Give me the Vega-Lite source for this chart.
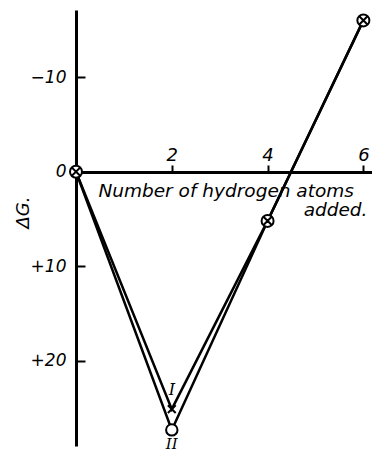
{
  "$schema": "https://vega.github.io/schema/vega-lite/v6.json",
  "width": 296,
  "height": 436,
  "autosize": {"type": "none"},
  "padding": {"left": 76, "top": 10, "right": 0, "bottom": 7},
  "background": "white",
  "config": {"view": {"stroke": null}, "font": "DejaVu Sans"},
  "datasets": {
    "lines": [
      {"series": "I", "n": 0, "dG": 0},
      {"series": "I", "n": 2, "dG": 25.1},
      {"series": "I", "n": 4, "dG": 5.2},
      {"series": "I", "n": 6, "dG": -16},
      {"series": "II", "n": 0, "dG": 0},
      {"series": "II", "n": 2, "dG": 27.3},
      {"series": "II", "n": 4, "dG": 5.2},
      {"series": "II", "n": 6, "dG": -16}
    ],
    "points": [
      {"n": 0, "dG": 0, "marker": "both", "label": ""},
      {"n": 2, "dG": 25.1, "marker": "I", "label": "I"},
      {"n": 2, "dG": 27.3, "marker": "II", "label": "II"},
      {"n": 4, "dG": 5.2, "marker": "both", "label": ""},
      {"n": 6, "dG": -16, "marker": "both", "label": ""}
    ]
  },
  "layer": [
    {
      "data": {"name": "lines"},
      "mark": {"type": "line", "color": "black", "strokeWidth": 2.5},
      "encoding": {
        "x": {
          "field": "n", "type": "quantitative",
          "scale": {"domain": [0, 6.18], "nice": false, "zero": false},
          "axis": {
            "orient": "top", "offset": -162, "values": [2, 4, 6],
            "grid": false, "tickSize": 7, "tickWidth": 2, "tickColor": "black",
            "domainWidth": 3, "domainColor": "black",
            "labelFont": "DejaVu Sans", "labelFontStyle": "italic", "labelFontSize": 18,
            "labelColor": "black", "labelPadding": 1,
            "title": ["Number of hydrogen atoms\u2800", "added."],
            "titleFont": "DejaVu Sans", "titleFontStyle": "italic", "titleFontWeight": "normal",
            "titleFontSize": 18.5, "titleColor": "black", "titleAlign": "right",
            "titleBaseline": "alphabetic", "titleLineHeight": 19,
            "titleX": 291, "titleY": 24, "titleAngle": 0
          }
        },
        "y": {
          "field": "dG", "type": "quantitative",
          "scale": {"domain": [-17.1, 29.0], "reverse": true, "nice": false, "zero": false},
          "axis": {
            "orient": "left", "values": [-10, 0, 10, 20],
            "labelExpr": "datum.value > 0 ? '+' + datum.value : (datum.value == 0 ? '0' : '−' + abs(datum.value))",
            "grid": false, "tickSize": -9, "tickWidth": 2, "tickColor": "black",
            "domainWidth": 3, "domainColor": "black",
            "labelFont": "DejaVu Sans", "labelFontStyle": "italic", "labelFontSize": 17,
            "labelColor": "black", "labelPadding": 19, "labelOverlap": false,
            "title": "ΔG.",
            "titleFont": "DejaVu Sans", "titleFontStyle": "italic", "titleFontWeight": "normal",
            "titleFontSize": 18, "titleColor": "black",
            "titleX": -53, "titleY": 202, "titleAngle": -90,
            "titleAlign": "center", "titleBaseline": "middle"
          }
        },
        "detail": {"field": "series"}
      }
    },
    {
      "data": {"name": "points"},
      "mark": {"type": "point", "filled": true, "fill": "white", "stroke": "black", "strokeWidth": 2, "size": 144, "opacity": 1},
      "encoding": {
        "x": {"field": "n", "type": "quantitative"},
        "y": {"field": "dG", "type": "quantitative"},
        "shape": {
          "field": "marker", "type": "nominal", "legend": null,
          "scale": {
            "domain": ["both", "I", "II"],
            "range": [
              "M1,0A1,1,0,1,1,-1,0A1,1,0,1,1,1,0Z M-0.6,-0.6L0.6,0.6M-0.6,0.6L0.6,-0.6",
              "M-0.65,-0.65L0.65,0.65M-0.65,0.65L0.65,-0.65",
              "M0.95,0A0.95,0.95,0,1,1,-0.95,0A0.95,0.95,0,1,1,0.95,0Z"
            ]
          }
        }
      }
    },
    {
      "data": {"name": "points"},
      "transform": [{"filter": "datum.label == 'I'"}],
      "mark": {"type": "text", "font": "DejaVu Serif", "fontStyle": "italic", "fontSize": 16, "color": "black", "dy": -19, "baseline": "middle"},
      "encoding": {
        "x": {"field": "n", "type": "quantitative"},
        "y": {"field": "dG", "type": "quantitative"},
        "text": {"field": "label"}
      }
    },
    {
      "data": {"name": "points"},
      "transform": [{"filter": "datum.label == 'II'"}],
      "mark": {"type": "text", "font": "DejaVu Serif", "fontStyle": "italic", "fontSize": 15, "color": "black", "dy": 14, "baseline": "middle"},
      "encoding": {
        "x": {"field": "n", "type": "quantitative"},
        "y": {"field": "dG", "type": "quantitative"},
        "text": {"field": "label"}
      }
    }
  ]
}
